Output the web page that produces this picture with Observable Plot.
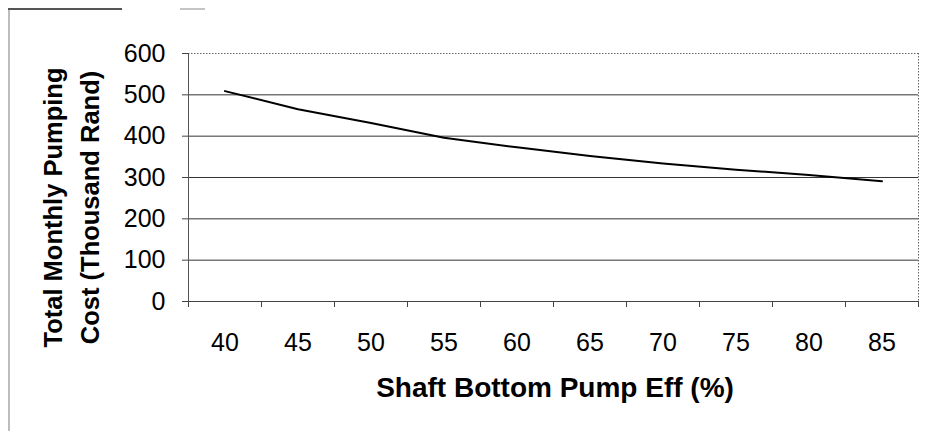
<!DOCTYPE html>
<html><head><meta charset="utf-8">
<script src="https://cdn.jsdelivr.net/npm/d3@7"></script>
<script src="https://cdn.jsdelivr.net/npm/@observablehq/plot@0.6"></script>
<style>
body{margin:0;background:#fff;}
#wrap{position:relative;width:925px;height:431px;overflow:hidden;background:#fff;}
#wrap svg{position:absolute;left:0;top:0;}
.edgeL{position:absolute;left:8px;top:9px;width:2px;height:422px;background:#bdbdbd;}
.edgeT{position:absolute;left:8px;top:8px;width:114px;height:2px;background:#555;}
.edgeT2{position:absolute;left:180px;top:8px;width:25px;height:2px;background:#c4c4c4;}
</style></head>
<body>
<div id="wrap"><div class="edgeL"></div><div class="edgeT"></div><div class="edgeT2"></div></div>
<script>
const efficiency = [40, 45, 50, 55, 60, 65, 70, 75, 80, 85];
const monthlyCost = [509, 465, 432, 396, 373, 352, 334, 319, 306, 291];
const yTicks = [0, 100, 200, 300, 400, 500, 600];
const xTickLabels = ["40", "45", "50", "55", "60", "65", "70", "75", "80", "85"];
const xTitle = "Shaft Bottom Pump Eff (%)";
const yTitle = "Total Monthly Pumping\nCost (Thousand Rand)";

const rows = efficiency.map((e, i) => ({eff: e, cost: monthlyCost[i]}));
const xBounds = efficiency.map(e => e - 2.5).concat([efficiency[efficiency.length - 1] + 2.5]);
const xDomain = [xBounds[0], xBounds[xBounds.length - 1]];

const chart = Plot.plot({
  width: 925,
  height: 431,
  marginLeft: 188,
  marginRight: 7,
  marginTop: 53,
  marginBottom: 130,
  style: {fontFamily: "'Liberation Sans', Arial, sans-serif", color: "#000", background: "transparent", overflow: "visible"},
  x: {type: "linear", domain: xDomain},
  y: {domain: [0, 600]},
  marks: [
    Plot.ruleY(yTicks.filter(v => v > 0 && v < 600), {stroke: "#333", strokeWidth: 1}),
    Plot.ruleY([600], {stroke: "#666", strokeDasharray: "1.5,1.5"}),
    Plot.ruleX([xDomain[1]], {stroke: "#666", strokeDasharray: "1.5,1.5"}),
    Plot.ruleY([0], {stroke: "#444"}),
    Plot.ruleX([xDomain[0]], {stroke: "#555"}),
    Plot.axisY({ticks: yTicks, tickSize: 6, tickPadding: 17, fontSize: 25, tickFormat: d => String(d), label: null, stroke: "#444"}),
    Plot.axisX({ticks: xBounds, tickSize: 6, tickFormat: () => "", label: null, stroke: "#444"}),
    Plot.axisX({ticks: efficiency, tickSize: 0, tickPadding: 32, fontSize: 25, tickFormat: d => xTickLabels[efficiency.indexOf(d)], label: null}),
    Plot.line(rows, {x: "eff", y: "cost", stroke: "#000", strokeWidth: 2}),
    Plot.text([xTitle], {frameAnchor: "bottom", lineAnchor: "top", dy: 76, dx: 1.5, fontSize: 28, fontWeight: "bold", fill: "#000"}),
    Plot.text([yTitle], {frameAnchor: "left", rotate: -90, dx: -120, dy: 30, fontSize: 25.5, fontWeight: "bold", lineHeight: 1.48, textAnchor: "middle", fill: "#000"})
  ]
});
document.getElementById("wrap").appendChild(chart);
</script>
</body></html>
